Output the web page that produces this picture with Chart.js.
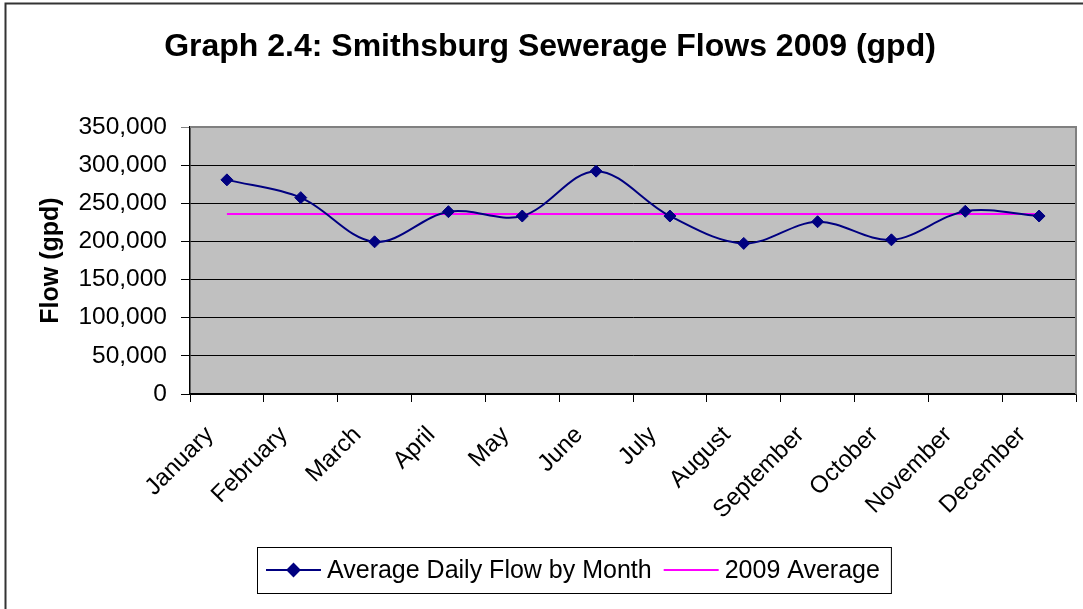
<!DOCTYPE html>
<html>
<head>
<meta charset="utf-8">
<script src="https://cdn.jsdelivr.net/npm/chart.js@4.4.1/dist/chart.umd.min.js"></script>
<style>
  html, body { margin: 0; padding: 0; background: #fff; }
  #wrap { width: 1083px; height: 609px; }
</style>
</head>
<body>
<div id="wrap"><canvas id="flowChart" width="1083" height="609"></canvas></div>
<script>
// datos
const months = ['January', 'February', 'March', 'April', 'May', 'June',
                'July', 'August', 'September', 'October', 'November', 'December'];
const dailyFlow = [280700, 257400, 199500, 239000, 233300, 292100,
                   233300, 197400, 225800, 202100, 239500, 233300];
const yearAverage = [236100, 236100, 236100, 236100, 236100, 236100,
                     236100, 236100, 236100, 236100, 236100, 236100];
const yTicks = [0, 50000, 100000, 150000, 200000, 250000, 300000, 350000];

const FONT = "'Liberation Sans', Arial, sans-serif";
const NAVY = '#000080';
const MAGENTA = '#ff00ff';

// fondo blanco, marco exterior y borde gris del área del gráfico
const framePlugin = {
    id: 'frame',
    beforeDraw(chart) {
        const { ctx, chartArea: a } = chart;
        ctx.save();
        ctx.fillStyle = '#fff';
        ctx.fillRect(0, 0, chart.width, chart.height);
        ctx.fillStyle = '#c0c0c0';
        ctx.fillRect(a.left, a.top, a.right - a.left, a.bottom - a.top);
        ctx.strokeStyle = '#333';
        ctx.lineWidth = 2;
        ctx.strokeRect(5.5, 3.5, chart.width + 10, chart.height + 10);
        ctx.restore();
    },
    afterDatasetsDraw(chart) {
        const { ctx, chartArea: a } = chart;
        ctx.save();
        ctx.strokeStyle = '#808080';
        ctx.lineWidth = 2;
        ctx.beginPath();
        ctx.moveTo(a.left, a.top);
        ctx.lineTo(a.right, a.top);
        ctx.lineTo(a.right, a.bottom);
        ctx.stroke();
        ctx.restore();
    }
};

// leyenda con recuadro, como en Excel
const boxLegendPlugin = {
    id: 'boxLegend',
    afterDraw(chart) {
        const { ctx } = chart;
        const sets = chart.data.datasets;
        const sample = 55, gapIn = 6, gapOut = 12, padL = 9, padR = 11;
        ctx.save();
        ctx.font = `25px ${FONT}`;
        const widths = sets.map(ds => ctx.measureText(ds.label).width);
        let total = padL + padR;
        widths.forEach((w, i) => { total += sample + gapIn + w + (i ? gapOut : 0); });
        const cx = 574, top = 547, h = 46;
        const left = Math.round(cx - total / 2);
        const midY = top + h / 2;

        ctx.strokeStyle = '#000';
        ctx.lineWidth = 1;
        ctx.strokeRect(left + 0.5, top + 0.5, total, h);

        let x = left + padL;
        sets.forEach((ds, i) => {
            if (i) x += gapOut;
            ctx.strokeStyle = ds.borderColor;
            ctx.lineWidth = 2;
            ctx.beginPath();
            ctx.moveTo(x, midY);
            ctx.lineTo(x + sample, midY);
            ctx.stroke();
            if (ds.pointRadius > 0) {
                Chart.helpers.drawPoint(ctx, {
                    pointStyle: ds.pointStyle, radius: ds.pointRadius, rotation: 0, borderWidth: 1
                }, x + sample / 2, midY);
                ctx.fillStyle = ds.pointBackgroundColor;
                ctx.fill();
            }
            x += sample + gapIn;
            ctx.fillStyle = '#000';
            ctx.textBaseline = 'middle';
            ctx.textAlign = 'left';
            ctx.fillText(ds.label, x, midY + 1);
            x += widths[i];
        });
        ctx.restore();
    }
};

new Chart(document.getElementById('flowChart'), {
    type: 'line',
    data: {
        labels: months,
        datasets: [
            {
                label: 'Average Daily Flow by Month',
                data: dailyFlow,
                borderColor: NAVY,
                backgroundColor: NAVY,
                borderWidth: 2,
                tension: 0.35,
                pointStyle: 'rectRot',
                pointRadius: 6,
                pointBackgroundColor: NAVY,
                pointBorderColor: NAVY,
                pointBorderWidth: 1
            },
            {
                label: '2009 Average',
                data: yearAverage,
                borderColor: MAGENTA,
                backgroundColor: MAGENTA,
                borderWidth: 2,
                tension: 0,
                pointRadius: 0
            }
        ]
    },
    options: {
        responsive: false,
        animation: false,
        layout: { padding: { left: 24, right: 7, top: 0, bottom: 0 } },
        plugins: {
            legend: { display: false },
            tooltip: { enabled: false },
            title: {
                display: true,
                text: 'Graph 2.4: Smithsburg Sewerage Flows 2009 (gpd)',
                color: '#000',
                font: { family: FONT, size: 32, weight: 'bold' },
                padding: { top: 28, bottom: 60.6 }
            }
        },
        scales: {
            x: {
                offset: true,
                grid: {
                    offset: true,
                    drawOnChartArea: false,
                    drawTicks: true,
                    tickLength: 8,
                    color: '#000'
                },
                border: { color: '#000', width: 1.5 },
                ticks: {
                    color: '#000',
                    font: { family: FONT, size: 24 },
                    minRotation: 45,
                    maxRotation: 45,
                    autoSkip: false,
                    padding: 19,
                    labelOffset: -17
                },
                afterFit(scale) { scale.height = 215; }
            },
            y: {
                min: 0,
                max: 350000,
                afterBuildTicks(scale) { scale.ticks = yTicks.map(v => ({ value: v })); },
                grid: {
                    color: ctx => (ctx.tick && ctx.tick.value === 350000) ? '#808080' : '#000',
                    lineWidth: 1,
                    tickLength: 9
                },
                border: { color: '#000', width: 1.5 },
                ticks: {
                    color: '#000',
                    font: { family: FONT, size: 24.5 },
                    padding: 14,
                    callback: v => Number(v).toLocaleString('en-US')
                },
                title: {
                    display: true,
                    text: 'Flow (gpd)',
                    color: '#000',
                    font: { family: FONT, size: 25, weight: 'bold' },
                    padding: { top: 12, bottom: 0 }
                },
                afterFit(scale) { scale.width = 166; }
            }
        }
    },
    plugins: [framePlugin, boxLegendPlugin]
});
</script>
</body>
</html>
